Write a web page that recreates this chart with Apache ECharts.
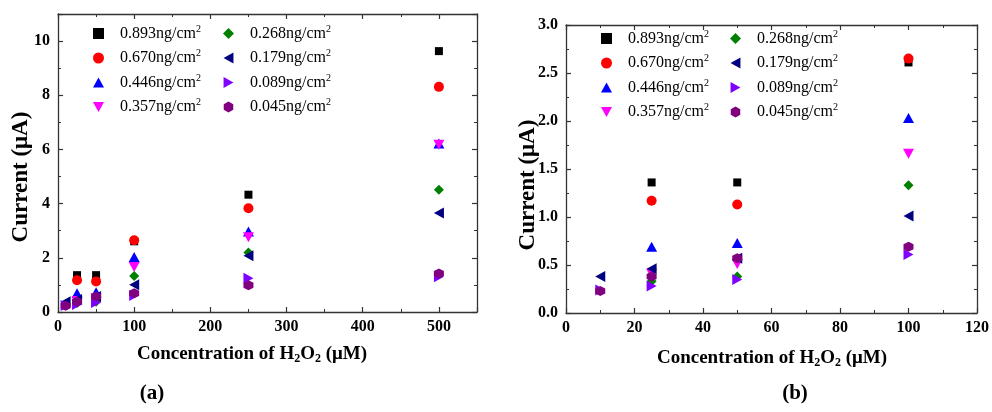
<!DOCTYPE html>
<html>
<head>
<meta charset="utf-8">
<script src="https://cdn.jsdelivr.net/npm/echarts@6/dist/echarts.min.js"></script>
<style>html,body{margin:0;padding:0;background:#fff;}#c{width:992px;height:412px;}</style>
</head>
<body>
<div id="c"></div>
<script>
// ---- data ----
const concentrations = [10, 25, 50, 100, 250, 500];
const seriesNames = ['0.893', '0.670', '0.446', '0.357', '0.268', '0.179', '0.089', '0.045'];
const v0893 = [null, 1.36, 1.36, 2.61, 4.33, 9.63];
const v0670 = [null, 1.17, 1.13, 2.65, 3.83, 8.31];
const v0446 = [null, 0.69, 0.73, 2.03, 2.97, 6.22];
const v0357 = [null, 0.41, 0.51, 1.66, 2.76, 6.17];
const v0268 = [null, 0.33, 0.38, 1.33, 2.20, 4.51];
const v0179 = [0.38, 0.46, 0.57, 1.01, 2.08, 3.65];
const v0089 = [0.24, 0.28, 0.35, 0.61, 1.25, 1.30];
const v0045 = [0.23, 0.38, 0.57, 0.69, 0.99, 1.42];
const ticksAY = [0, 2, 4, 6, 8, 10];
const ticksAX = [0, 100, 200, 300, 400, 500];
const ticksBY = [0.0, 0.5, 1.0, 1.5, 2.0, 2.5, 3.0];
const ticksBX = [0, 20, 40, 60, 80, 100, 120];

const values = [v0893, v0670, v0446, v0357, v0268, v0179, v0089, v0045];
const colors = ['#000000', '#ff0000', '#0000ff', '#ff00ff', '#008000', '#000080', '#8000ff', '#800080'];
const symbols = [
  'rect',
  'circle',
  'path://M1,0 L2,1.8 L0,1.8 Z',
  'path://M0,0 L2,0 L1,1.8 Z',
  'diamond',
  'path://M0,1 L1.8,0 L1.8,2 Z',
  'path://M0,0 L1.8,1 L0,2 Z',
  'path://M0,-1 L0.866,-0.5 L0.866,0.5 L0,1 L-0.866,0.5 L-0.866,-0.5 Z'
];
const sizes = [8, 10, [11, 10], [11, 10], 10, [10, 11], [10, 11], 10];

const FONT = 'Liberation Serif';
const axisColor = '#333';

function mkX(grid, max, interval, pos, labels, showMax) {
  return {
    type: 'value', gridIndex: grid, min: 0, max: max, interval: interval, position: pos,
    axisLine: {show: true, onZero: false, lineStyle: {color: axisColor, width: 1.3}},
    axisTick: {show: true, inside: true, length: 5, lineStyle: {color: axisColor, width: 1.2}},
    minorTick: {show: true, splitNumber: 2, length: 3, lineStyle: {color: axisColor, width: 1}},
    axisLabel: {show: labels, showMaxLabel: showMax, margin: 7, fontFamily: FONT, fontWeight: 'bold', fontSize: 16, color: '#000'},
    splitLine: {show: false}, minorSplitLine: {show: false}
  };
}
function mkY(grid, max, interval, pos, labels, showMax, fmt) {
  const a = mkX(grid, max, interval, pos, labels, showMax);
  a.axisLabel.margin = 8;
  if (fmt) a.axisLabel.formatter = fmt;
  return a;
}

const series = [];
values.forEach((vals, i) => {
  [0, 1].forEach(g => {
    const data = [];
    concentrations.forEach((x, j) => {
      if (vals[j] == null) return;
      if (g === 1 && x > 100) return;
      data.push([x, vals[j]]);
    });
    series.push({
      type: 'scatter', name: seriesNames[i], xAxisIndex: g * 2, yAxisIndex: g * 2,
      data: data, symbol: symbols[i], symbolSize: sizes[i],
      itemStyle: {color: colors[i], opacity: 1}, emphasis: {disabled: true}, z: 2 + i
    });
  });
});

function mkLegend(names, left, top) {
  return {
    data: names, orient: 'vertical', left: left, top: top, itemGap: 6,
    itemWidth: 11, itemHeight: 11, selectedMode: false,
    formatter: n => '{sp|}' + n + 'ng/cm{sup|2}',
    textStyle: {fontFamily: FONT, fontSize: 16, color: '#000', lineHeight: 18,
      rich: {
        sp: {width: 11},
        sup: {fontFamily: FONT, fontSize: 10, color: '#000', padding: [0, 0, 9, 0]}
      }}
  };
}

const subRich = {sub: {fontFamily: FONT, fontWeight: 'bold', fontSize: 12, padding: [9, 0, 0, 0]}};

const option = {
  animation: false,
  grid: [
    {left: 58, top: 14, width: 419, height: 298},
    {left: 566, top: 25, width: 412, height: 288}
  ],
  xAxis: [
    mkX(0, 550, 100, 'bottom', true, false),
    mkX(0, 550, 100, 'top', false, false),
    mkX(1, 120, 20, 'bottom', true, true),
    mkX(1, 120, 20, 'top', false, true)
  ],
  yAxis: [
    mkY(0, 11, 2, 'left', true, false),
    mkY(0, 11, 2, 'right', false, false),
    mkY(1, 3, 0.5, 'left', true, true, v => v.toFixed(1)),
    mkY(1, 3, 0.5, 'right', false, true)
  ],
  legend: [
    mkLegend(seriesNames.slice(0, 4), 88, 19),
    mkLegend(seriesNames.slice(4), 218, 19),
    mkLegend(seriesNames.slice(0, 4), 596, 24),
    mkLegend(seriesNames.slice(4), 725, 24)
  ],
  graphic: [
    {type: 'text', x: 21, y: 177, rotation: Math.PI / 2,
      style: {text: 'Current (μA)', fontFamily: FONT, fontWeight: 'bold', fontSize: 23, fill: '#000', align: 'center', verticalAlign: 'middle'}},
    {type: 'text', x: 528, y: 185, rotation: Math.PI / 2,
      style: {text: 'Current (μA)', fontFamily: FONT, fontWeight: 'bold', fontSize: 23, fill: '#000', align: 'center', verticalAlign: 'middle'}},
    {type: 'text', x: 252, y: 354,
      style: {text: 'Concentration of H{sub|2}O{sub|2} (μM)', rich: subRich, fontFamily: FONT, fontWeight: 'bold', fontSize: 19, fill: '#000', align: 'center', verticalAlign: 'middle'}},
    {type: 'text', x: 772, y: 358,
      style: {text: 'Concentration of H{sub|2}O{sub|2} (μM)', rich: subRich, fontFamily: FONT, fontWeight: 'bold', fontSize: 19, fill: '#000', align: 'center', verticalAlign: 'middle'}},
    {type: 'text', x: 152, y: 394,
      style: {text: '(a)', fontFamily: FONT, fontWeight: 'bold', fontSize: 21, fill: '#000', align: 'center', verticalAlign: 'middle'}},
    {type: 'text', x: 795, y: 394,
      style: {text: '(b)', fontFamily: FONT, fontWeight: 'bold', fontSize: 21, fill: '#000', align: 'center', verticalAlign: 'middle'}}
  ],
  series: series
};

const chart = echarts.init(document.getElementById('c'), null, {renderer: 'canvas'});
chart.setOption(option);
</script>
</body>
</html>
